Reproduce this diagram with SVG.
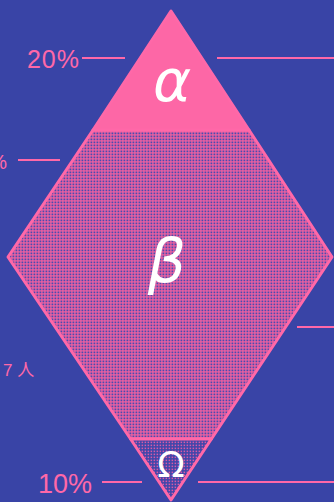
<svg xmlns="http://www.w3.org/2000/svg" width="334" height="502" viewBox="0 0 334 502">
<defs>
<pattern id="pBeta" width="3" height="3" patternUnits="userSpaceOnUse">
<rect width="3" height="3" fill="#f5619f"/>
<rect x="0.5" y="0.5" width="1.8" height="1.8" fill="#4a4cb0"/>
</pattern>
<pattern id="pOmega" width="3" height="3" patternUnits="userSpaceOnUse">
<rect width="3" height="3" fill="#3f46aa"/>
<rect x="0.6" y="0.6" width="1.5" height="1.5" fill="#d85aa6"/>
</pattern>
<style>
.lbl{fill:#ff68a8;font-family:"Liberation Sans","Noto Sans CJK JP",sans-serif}
.ln{stroke:#ff68a8;stroke-width:2;fill:none}
.greek{fill:#ffffff;font-family:"DejaVu Sans",sans-serif;text-anchor:middle}
.edge{stroke:#ff68a8;stroke-width:3;stroke-linejoin:round}
</style>
</defs>
<rect width="334" height="502" fill="#3944a6"/>
<g id="connectors">
<line class="ln" x1="82" y1="58" x2="125" y2="58"/>
<line class="ln" x1="217" y1="58" x2="334" y2="58"/>
<line class="ln" x1="18" y1="160" x2="60" y2="160"/>
<line class="ln" x1="297" y1="327" x2="334" y2="327"/>
<line class="ln" x1="102" y1="482" x2="142" y2="482"/>
<line class="ln" x1="198" y1="482" x2="334" y2="482"/>
</g>
<g id="beta">
<polygon class="edge" points="93,130 249,130 332,257 211.4,439 130.6,439 8,257" fill="url(#pBeta)"/>
<text class="greek" x="167" y="282" font-size="60" font-style="italic">β</text>
</g>
<g id="alpha">
<polygon class="edge" points="171,11 249,130 93,130" fill="#fd67a6"/>
<text class="greek" x="172" y="101" font-size="58" font-style="italic">α</text>
</g>
<g id="omega">
<polygon class="edge" points="130.6,439 211.4,439 171,500" fill="url(#pOmega)"/>
<text class="greek" x="171" y="477" font-size="36">Ω</text>
</g>
<g id="labels">
<text class="lbl" x="80" y="68" font-size="25" text-anchor="end" letter-spacing="1">20%</text>
<text class="lbl" x="7" y="169" font-size="20" text-anchor="end">%</text>
<text class="lbl" x="3" y="376" font-size="17">7 人</text>
<text class="lbl" x="92" y="493" font-size="27" text-anchor="end">10%</text>
</g>
</svg>
